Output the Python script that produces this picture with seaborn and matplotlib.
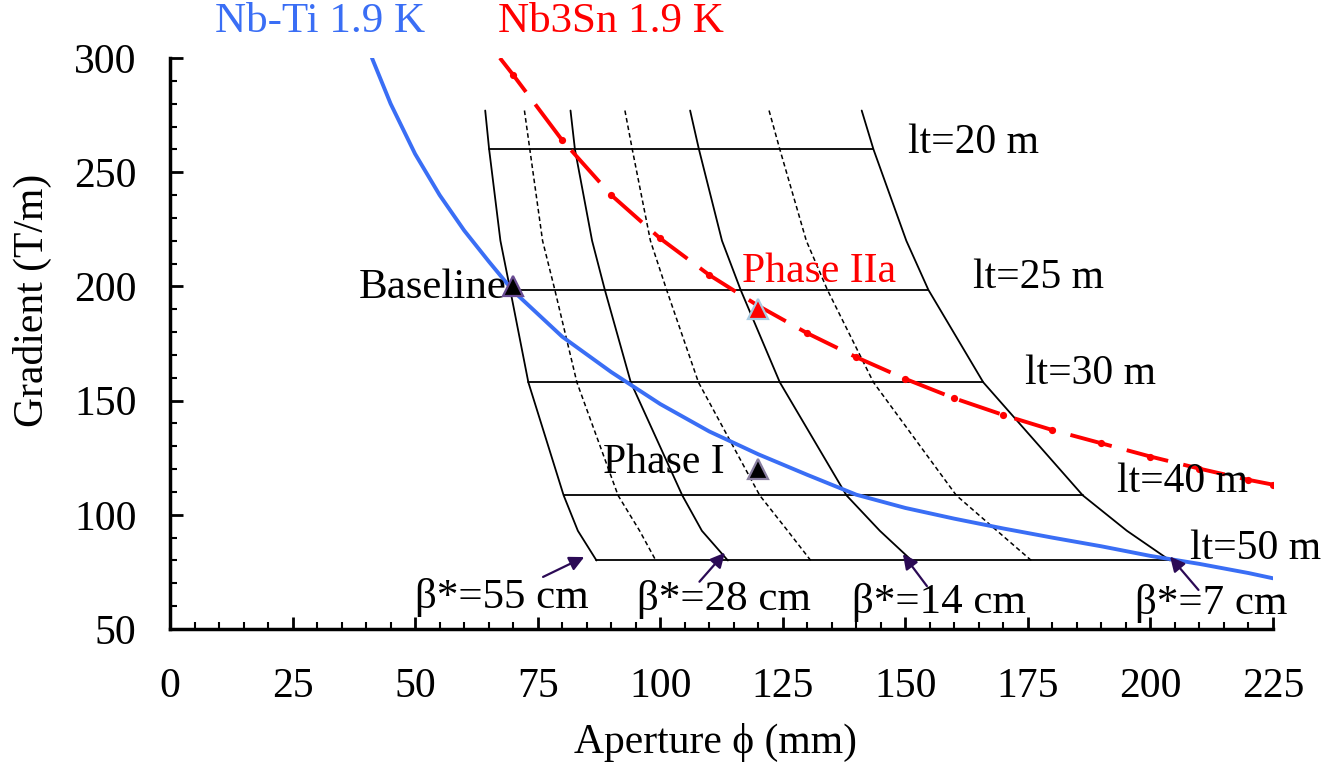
import numpy as np
import pandas as pd
import matplotlib
matplotlib.use("Agg")
import matplotlib.pyplot as plt
import seaborn as sns

# ---------------- data ----------------
# Nb-Ti 1.9 K short-sample limit (aperture mm, gradient T/m)
nbti_x = [41.2, 45, 50, 55, 60, 65, 70, 80, 90, 100, 110, 120, 130, 140, 150, 160, 170, 180, 190, 200, 210, 220, 225]
nbti_g = [300, 280, 258, 240, 224.5, 211, 198, 178, 162.5, 148.5, 136.5, 126.5, 117.5, 108.8, 103, 98.3, 94, 90, 86.2, 82, 78.5, 74.5, 72.2]

# Nb3Sn 1.9 K
nb3sn_x = [67.3, 70, 80, 90, 100, 110, 120, 130, 140, 150, 160, 170, 180, 190, 200, 210, 220, 225]
nb3sn_g = [300, 292.6, 264, 240, 221, 205, 191.5, 179.5, 169, 159.5, 151, 143.7, 137.1, 131.3, 125.5, 120.2, 115.3, 113.2]

# beta* iso-curves: aperture at given gradient levels
grid_g = [277, 260, 220, 198.5, 158, 108.5, 93, 80]
beta_names = ["55", "40", "28", "20", "14", "10", "7"]
beta_solid = [True, False, True, False, True, False, True]
beta_x = {
    "55": [64.3, 65.1, 67.4, 69.4, 73.1, 80.3, 83.2, 87.0],
    "40": [72.3, 73.4, 76.0, 78.5, 83.0, 91.4, 95.8, 99.1],
    "28": [81.7, 82.6, 86.1, 88.7, 94.0, 104.5, 108.5, 113.8],
    "20": [92.8, 94.3, 98.0, 101.3, 107.8, 120.3, 126.0, 130.7],
    "14": [106.1, 107.9, 112.6, 116.4, 124.4, 138.0, 144.8, 151.3],
    "10": [122.2, 124.4, 129.8, 134.1, 143.5, 160.4, 168.7, 175.7],
    "7": [141.1, 143.5, 150.2, 154.7, 165.9, 186.2, 195.2, 204.0],
}

# triplet length lines (index into grid_g)
lt_labels = ["lt=20 m", "lt=25 m", "lt=30 m", "lt=40 m", "lt=50 m"]
lt_index = [1, 3, 4, 5, 7]
lt_text_x = [150.6, 163.8, 174.4, 193.2, 208.1]
lt_text_g = [262.8, 204.0, 161.6, 114.4, 85.0]

# operating points
pt_names = ["Baseline", "Phase I", "Phase IIa"]
pt_x = [70, 120, 120]
pt_g = [200, 120, 190]

# beta* labels with arrows
bl_text = ["\u03b2*=55 cm", "\u03b2*=28 cm", "\u03b2*=14 cm", "\u03b2*=7 cm"]
bl_tx = [50.0, 95.3, 139.1, 196.9]
bl_tg = [64.0, 62.7, 61.8, 61.0]
arr_tail_x = [76.1, 108.0, 154.4, 209.8]
arr_tail_g = [72.8, 70.7, 68.8, 67.1]
arr_head_x = [84.5, 113.2, 149.5, 204.0]
arr_head_g = [81.5, 83.4, 82.8, 81.7]

# ---------------- style ----------------
sns.set_theme(style="ticks")
plt.rcParams["font.family"] = ["Liberation Serif", "DejaVu Serif"]
plt.rcParams["mathtext.fontset"] = "stix"
for k in ["text.color", "axes.labelcolor", "xtick.color", "ytick.color", "axes.edgecolor"]:
    plt.rcParams[k] = "black"

BLUE = "#3A6EF5"
RED = "#FF0000"
PURPLE = "#2B0A55"
FS = 30

fig = plt.figure(figsize=(13.22, 7.64), dpi=100)
ax = fig.add_axes([170 / 1322, 1 - 629 / 764, (1273 - 170) / 1322, (629 - 58) / 764])

# beta* curves
for name, solid in zip(beta_names, beta_solid):
    df = pd.DataFrame({"x": beta_x[name], "g": grid_g})
    sns.lineplot(data=df, x="x", y="g", sort=False, estimator=None, ax=ax,
                 color="black", lw=1.3 if solid else 1.1,
                 linestyle="-" if solid else (0, (3, 2)), legend=False)

# horizontal lt lines
for idx in lt_index:
    df = pd.DataFrame({"x": [beta_x["55"][idx], beta_x["7"][idx]], "g": [grid_g[idx], grid_g[idx]]})
    sns.lineplot(data=df, x="x", y="g", sort=False, estimator=None, ax=ax,
                 color="black", lw=1.3, legend=False)

# Nb-Ti
df_nbti = pd.DataFrame({"x": nbti_x, "g": nbti_g})
sns.lineplot(data=df_nbti, x="x", y="g", sort=False, estimator=None, ax=ax,
             color=BLUE, lw=2.8, legend=False, zorder=3)

# Nb3Sn
df_nb3 = pd.DataFrame({"x": nb3sn_x, "g": nb3sn_g})
sns.lineplot(data=df_nb3, x="x", y="g", sort=False, estimator=None, ax=ax,
             color=RED, lw=2.8, linestyle=(0, (11, 4)), marker="o", ms=5.2,
             markevery=slice(1, None), markeredgewidth=0, legend=False, zorder=3)

# operating points
pt_face = ["black", "black", RED]
pt_edge = ["#6A4C93", "#8A7FA0", "#A9CCE3"]
for x, g, fc, ec in zip(pt_x, pt_g, pt_face, pt_edge):
    ax.plot([x], [g], marker="^", ms=15, mfc=fc, mec=ec, mew=1.6, ls="none", zorder=5)

ax.text(68.6, 199.3, "Baseline", fontsize=FS + 1, ha="right", va="center", color="black")
ax.text(88.3, 122.7, "Phase I", fontsize=FS, ha="left", va="center", color="black")
ax.text(116.7, 206.3, "Phase IIa", fontsize=FS, ha="left", va="center", color=RED)

for t, x, g in zip(lt_labels, lt_text_x, lt_text_g):
    ax.text(x, g, t, fontsize=FS, ha="left", va="center", color="black")

for t, tx, tg, ax0, ag0, ax1, ag1 in zip(bl_text, bl_tx, bl_tg, arr_tail_x, arr_tail_g, arr_head_x, arr_head_g):
    ax.text(tx, tg, t, fontsize=FS + 1, ha="left", va="center", color="black", zorder=6)
    ax.annotate("", xy=(ax1, ag1), xytext=(ax0, ag0),
                arrowprops=dict(arrowstyle="-|>", color=PURPLE, lw=1.6, mutation_scale=22,
                                shrinkA=0, shrinkB=0), zorder=6)

ax.text(9.2, 315.8, "Nb-Ti 1.9 K", fontsize=FS + 1, ha="left", va="center", color=BLUE, clip_on=False)
ax.text(66.9, 315.8, "Nb3Sn 1.9 K", fontsize=FS + 1, ha="left", va="center", color=RED, clip_on=False)

# axes
ax.set_xlim(0, 225)
ax.set_ylim(50, 300)
ax.set_xticks(np.arange(0, 226, 25))
ax.set_xticks(np.arange(0, 226, 5), minor=True)
ax.set_yticks(np.arange(50, 301, 50))
ax.set_yticks(np.arange(50, 301, 10), minor=True)
ax.tick_params(axis="both", which="major", direction="in", length=9, width=2, labelsize=FS)
ax.tick_params(axis="both", which="minor", direction="in", length=5, width=1.5)
ax.tick_params(axis="x", which="major", pad=28)
ax.tick_params(axis="y", which="major", pad=24)
for s in ["top", "right"]:
    ax.spines[s].set_visible(False)
for s in ["left", "bottom"]:
    ax.spines[s].set_linewidth(2.5)
    ax.spines[s].set_color("black")

ax.set_xlabel("Aperture \u03d5 (mm)", fontsize=FS)
ax.set_ylabel("Gradient (T/m)", fontsize=FS)
ax.xaxis.set_label_coords((715 - 170) / (1273 - 170), -(742 - 629) / (629 - 58))
ax.yaxis.set_label_coords(-(170 - 32) / (1273 - 170), (629 - 300) / (629 - 58))
ax.xaxis.label.set_va("center")
ax.yaxis.label.set_va("center")

fig.savefig("out.png", dpi=100)
